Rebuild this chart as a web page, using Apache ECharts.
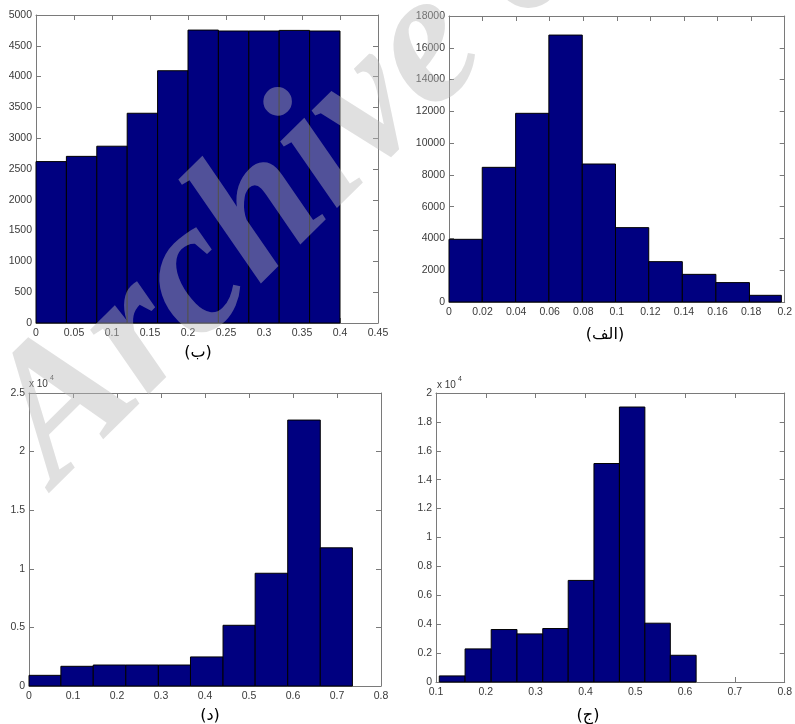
<!DOCTYPE html>
<html><head><meta charset="utf-8">
<script src="https://cdn.jsdelivr.net/npm/echarts@6/dist/echarts.min.js"></script>
<style>html,body{margin:0;padding:0;background:#fff}#c{width:795px;height:724px}</style>
</head><body><div id="c"></div>
<script>
// Panel (ب) top-left
const edgesB = [0, 0.04, 0.08, 0.12, 0.16, 0.20, 0.24, 0.28, 0.32, 0.36, 0.40];
const countsB = [2620, 2705, 2870, 3405, 4095, 4755, 4740, 4740, 4750, 4740];
// Panel (الف) top-right
const edgesAlef = [0, 0.0198, 0.0397, 0.0595, 0.0794, 0.0992, 0.119, 0.139, 0.159, 0.179, 0.198];
const countsAlef = [3945, 8475, 11875, 16800, 8685, 4680, 2540, 1740, 1220, 420];
// Panel (د) bottom-left
const edgesDal = [0, 0.0725, 0.146, 0.22, 0.294, 0.367, 0.441, 0.514, 0.588, 0.662, 0.735];
const countsDal = [910, 1680, 1790, 1790, 1790, 2480, 5180, 9620, 22690, 11790];
// Panel (ج) bottom-right
const edgesJim = [0.1066, 0.1584, 0.2108, 0.2626, 0.3143, 0.3654, 0.4171, 0.4682, 0.5193, 0.5704, 0.6222];
const countsJim = [420, 2290, 3630, 3330, 3700, 7030, 15120, 19030, 4070, 1850];

const captions = ['(ب)', '(الف)', '(د)', '(ج)'];
const watermark = 'Archive of SID';
const exponentLabel = 'x 10';
const exponentPower = '4';

const panels = [
  {grid:{left:36, top:15, width:342, height:308}, edges:edgesB, counts:countsB, xmin:0, xmax:0.45, xint:0.05, ymax:5000, yint:500, scale:1},
  {grid:{left:449, top:16, width:340, height:286}, edges:edgesAlef, counts:countsAlef, xmin:0, xmax:0.2, xint:0.02, ymax:18000, yint:2000, scale:1},
  {grid:{left:29, top:393, width:352, height:293}, edges:edgesDal, counts:countsDal, xmin:0, xmax:0.8, xint:0.1, ymax:25000, yint:5000, scale:1e4},
  {grid:{left:436, top:393, width:352, height:289}, edges:edgesJim, counts:countsJim, xmin:0.1, xmax:0.8, xint:0.1, ymax:20000, yint:2000, scale:1e4}
];

const axisColor = '#7a7a7a';
const labelColor = '#3a3a3a';
const labelFont = {fontFamily:'Liberation Sans', fontSize:10.5, color:labelColor};
const fmt = v => String(Math.round(v * 10000) / 10000);

const grid = [], xAxis = [], yAxis = [], series = [];
panels.forEach((p, i) => {
  grid.push(Object.assign({containLabel:false}, p.grid));
  const base = {gridIndex:i, type:'value', splitLine:{show:false},
    axisLine:{show:true, onZero:false, lineStyle:{color:axisColor, width:1}},
    axisTick:{show:true, inside:true, length:5, lineStyle:{color:axisColor}}};
  xAxis.push(Object.assign({}, base, {position:'bottom', min:p.xmin, max:p.xmax, interval:p.xint,
    axisLabel:Object.assign({margin:5, formatter:fmt, showMinLabel:true, showMaxLabel:true}, labelFont)}));
  xAxis.push(Object.assign({}, base, {position:'top', min:p.xmin, max:p.xmax, interval:p.xint, axisLabel:{show:false}}));
  yAxis.push(Object.assign({}, base, {position:'left', min:0, max:p.ymax, interval:p.yint,
    axisLabel:Object.assign({margin:4, formatter:v => fmt(v / p.scale), showMinLabel:true, showMaxLabel:true}, labelFont)}));
  yAxis.push(Object.assign({}, base, {position:'right', min:0, max:p.ymax, interval:p.yint, axisLabel:{show:false}}));
  series.push({
    type:'custom', xAxisIndex:2*i, yAxisIndex:2*i, z:3,
    data:p.counts.map((c, k) => [p.edges[k], p.edges[k+1], c]),
    encode:{x:[0,1], y:2},
    renderItem:(params, api) => {
      const p0 = api.coord([api.value(0), api.value(2)]);
      const p1 = api.coord([api.value(1), 0]);
      return {type:'rect', shape:{x:p0[0], y:p0[1], width:p1[0]-p0[0], height:p1[1]-p0[1]},
        style:{fill:'#000080', stroke:'#000000', lineWidth:1}};
    }
  });
});

const capPos = [[198, 353], [605, 335], [210, 716], [588, 716]];
const graphic = captions.map((t, i) => ({type:'text', x:capPos[i][0], y:capPos[i][1], z:50,
  style:{text:t, font:'16px "DejaVu Sans"', align:'center', verticalAlign:'middle', fill:'#000'}}));
[[29, 384], [437, 385]].forEach(pos => {
  graphic.push({type:'text', x:pos[0], y:pos[1], z:50,
    style:{text:exponentLabel, font:'10px "Liberation Sans"', verticalAlign:'middle', fill:labelColor}});
  graphic.push({type:'text', x:pos[0]+21, y:pos[1]-6, z:50,
    style:{text:exponentPower, font:'7px "Liberation Sans"', verticalAlign:'middle', fill:labelColor}});
});
graphic.push({type:'text', x:88, y:519, rotation:0.78, z:100,
  style:{text:watermark, font:'italic bold 190px "Liberation Serif"', fill:'rgba(184,184,184,0.44)', verticalAlign:'bottom', align:'left'}});

const chart = echarts.init(document.getElementById('c'), null, {renderer:'canvas'});
chart.setOption({animation:false, backgroundColor:'#fff', grid, xAxis, yAxis, series, graphic});
</script>
</body></html>
